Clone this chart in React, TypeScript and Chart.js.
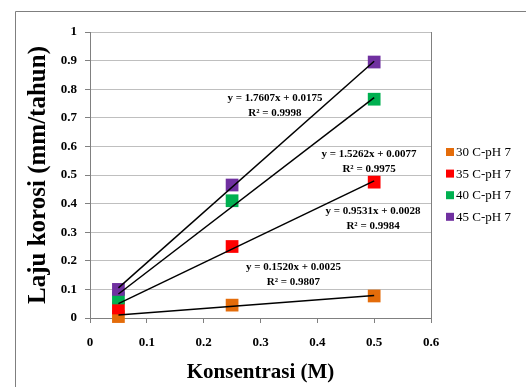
import React, { useEffect, useRef } from 'react';
import { Chart, registerables } from 'chart.js';

Chart.register(...registerables);

// ---- data ----
const concentrations = [0.05, 0.25, 0.5];
const seriesLabels = ['30 C-pH 7', '35 C-pH 7', '40 C-pH 7', '45 C-pH 7'];
const rate30 = [0.005, 0.045, 0.077];
const rate35 = [0.035, 0.25, 0.475];
const rate40 = [0.07, 0.41, 0.765];
const rate45 = [0.1, 0.465, 0.895];
const seriesRates = [rate30, rate35, rate40, rate45];

// printed linear trendlines
const trendSlopes = [0.152, 0.9531, 1.5262, 1.7607];
const trendIntercepts = [0.0025, 0.0028, 0.0077, 0.0175];
const trendEquations = [
  'y = 0.1520x + 0.0025',
  'y = 0.9531x + 0.0028',
  'y = 1.5262x + 0.0077',
  'y = 1.7607x + 0.0175',
];
const trendR2 = ['R² = 0.9807', 'R² = 0.9984', 'R² = 0.9975', 'R² = 0.9998'];

// where each equation label sits (data units)
const labelAnchorX = [0.358, 0.498, 0.491, 0.3255];
const labelAnchorY = [0.152, 0.348, 0.545, 0.743];

const colors = ['#E46C0A', '#FF0000', '#00B050', '#7030A0'];
const FONT = '"Liberation Serif", "Times New Roman", serif';

const App: React.FC = () => {
  const canvasRef = useRef<HTMLCanvasElement | null>(null);

  useEffect(() => {
    document.body.style.margin = '0';
    const canvas = canvasRef.current;
    if (!canvas) return;

    const xMin = Math.min(...concentrations);
    const xMax = Math.max(...concentrations);

    const scatterSets = seriesRates.map((rates, i) => ({
      label: seriesLabels[i],
      data: concentrations.map((c, j) => ({ x: c, y: rates[j] })),
      backgroundColor: colors[i],
      borderColor: colors[i],
      pointStyle: 'rect' as const,
      pointRadius: 9,
      pointHoverRadius: 9,
      pointBorderWidth: 0,
      showLine: false,
      clip: false as any,
      order: 10 - i,
    }));

    const trendSets = trendSlopes.map((m, i) => ({
      label: 'trend-' + i,
      data: [
        { x: xMin, y: m * xMin + trendIntercepts[i] },
        { x: xMax, y: m * xMax + trendIntercepts[i] },
      ],
      borderColor: '#000000',
      backgroundColor: '#000000',
      borderWidth: 1.5,
      pointRadius: 0,
      showLine: true,
      clip: false as any,
      order: 4 - i,
    }));

    const framePlugin = {
      id: 'frame',
      beforeDraw(chart: any) {
        const { ctx, width, height } = chart;
        ctx.save();
        ctx.fillStyle = '#ffffff';
        ctx.fillRect(0, 0, width, height);
        ctx.strokeStyle = '#7f7f7f';
        ctx.lineWidth = 1;
        ctx.beginPath();
        ctx.moveTo(15.5, height);
        ctx.lineTo(15.5, 11.5);
        ctx.lineTo(width, 11.5);
        ctx.stroke();
        ctx.restore();
      },
      afterDatasetsDraw(chart: any) {
        const { ctx, chartArea, scales } = chart;
        ctx.save();
        // right edge of plot area
        ctx.strokeStyle = '#808080';
        ctx.lineWidth = 1;
        ctx.beginPath();
        ctx.moveTo(Math.round(chartArea.right) + 0.5, chartArea.top);
        ctx.lineTo(Math.round(chartArea.right) + 0.5, chartArea.bottom);
        ctx.stroke();

        // trendline equations
        ctx.fillStyle = '#000000';
        ctx.font = 'bold 11px ' + FONT;
        ctx.textAlign = 'center';
        ctx.textBaseline = 'middle';
        trendEquations.forEach((eq, i) => {
          const px = scales.x.getPixelForValue(labelAnchorX[i]);
          const py = scales.y.getPixelForValue(labelAnchorY[i]);
          ctx.fillText(eq, px, py - 7.5);
          ctx.fillText(trendR2[i], px, py + 7.5);
        });

        // legend
        const lx = chartArea.right + 15;
        const ly0 = 152;
        const step = 21.6;
        ctx.font = '13px ' + FONT;
        ctx.textAlign = 'left';
        seriesLabels.forEach((lab, i) => {
          const cy = ly0 + i * step;
          ctx.fillStyle = colors[i];
          ctx.fillRect(lx, cy - 4, 8, 8);
          ctx.fillStyle = '#000000';
          ctx.fillText(lab, lx + 10, cy + 0.5);
        });
        ctx.restore();
      },
    };

    const chart = new Chart(canvas, {
      type: 'scatter',
      data: { datasets: [...scatterSets, ...trendSets] as any },
      options: {
        animation: false,
        responsive: false,
        maintainAspectRatio: false,
        events: [],
        layout: { padding: { left: 20, right: 95, top: 32, bottom: 0 } },
        plugins: {
          legend: { display: false },
          tooltip: { enabled: false },
        },
        scales: {
          x: {
            type: 'linear',
            min: 0,
            max: 0.6,
            afterFit: (scale: any) => {
              scale.height = 69;
            },
            ticks: {
              stepSize: 0.1,
              padding: 12,
              color: '#000000',
              font: { family: FONT, size: 13, weight: 'bold' },
              callback: (v: any) => String(Number(Number(v).toFixed(1))),
            },
            grid: {
              drawOnChartArea: false,
              tickLength: 5,
              tickColor: '#808080',
            },
            border: { color: '#808080', width: 1 },
            title: {
              display: true,
              text: 'Konsentrasi (M)',
              color: '#000000',
              font: { family: FONT, size: 21, weight: 'bold' },
              padding: { top: 0, bottom: 2 },
            },
          },
          y: {
            type: 'linear',
            min: 0,
            max: 1,
            afterFit: (scale: any) => {
              scale.width = 70;
            },
            ticks: {
              stepSize: 0.1,
              padding: 8,
              color: '#000000',
              font: { family: FONT, size: 13, weight: 'bold' },
              callback: (v: any) => String(Number(Number(v).toFixed(1))),
            },
            grid: {
              color: '#bfbfbf',
              tickLength: 5,
              tickColor: '#808080',
            },
            border: { color: '#808080', width: 1 },
            title: {
              display: true,
              text: 'Laju korosi (mm/tahun)',
              color: '#000000',
              font: { family: FONT, size: 25, weight: 'bold' },
              padding: { top: 4, bottom: 0 },
            },
          },
        },
      },
      plugins: [framePlugin],
    });

    return () => chart.destroy();
  }, []);

  return (
    <div style={{ width: 526, height: 387, position: 'relative' }}>
      <canvas ref={canvasRef} width={526} height={387} style={{ width: 526, height: 387, display: 'block' }} />
    </div>
  );
};

export default App;
